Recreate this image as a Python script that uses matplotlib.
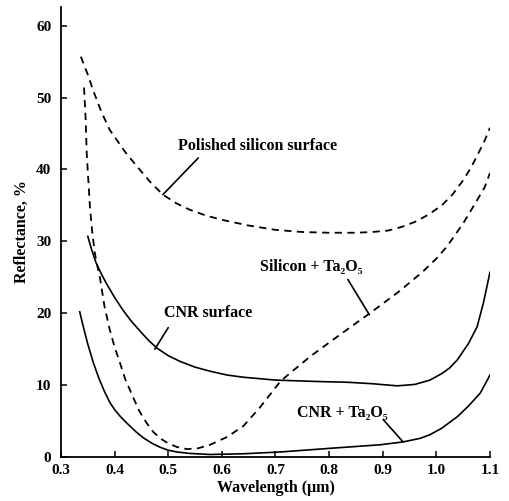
import matplotlib
matplotlib.use('Agg')
import matplotlib.pyplot as plt

# Reflectance curves (wavelength in um, reflectance in %)
polished_x = [0.337, 0.35, 0.36, 0.376, 0.391, 0.405, 0.42, 0.442, 0.466, 0.49,
              0.515, 0.54, 0.57, 0.60, 0.65, 0.70, 0.75, 0.80, 0.85, 0.88,
              0.91, 0.935, 0.96, 0.985, 1.01, 1.03, 1.05, 1.065, 1.08, 1.09, 1.10]
polished_y = [55.7, 53.2, 51.0, 47.9, 45.5, 44.0, 42.4, 40.4, 38.3, 36.5,
              35.3, 34.4, 33.6, 33.0, 32.2, 31.6, 31.3, 31.2, 31.2, 31.3,
              31.5, 32.0, 32.7, 33.7, 35.0, 36.5, 38.5, 40.3, 42.5, 44.0, 45.8]

si_ta_x = [0.343, 0.346, 0.348, 0.351, 0.354, 0.358, 0.363, 0.368, 0.373, 0.381,
           0.391, 0.40, 0.41, 0.42, 0.434, 0.446, 0.46, 0.472, 0.485, 0.50,
           0.516, 0.535, 0.555, 0.578, 0.61, 0.64, 0.67, 0.71, 0.765, 0.82,
           0.876, 0.93, 0.975, 1.00, 1.02, 1.05, 1.075, 1.09, 1.10]
si_ta_y = [51.4, 47.0, 42.3, 38.5, 34.8, 31.5, 28.4, 26.5, 24.8, 21.0,
           17.7, 15.3, 13.1, 10.8, 8.4, 6.4, 4.7, 3.5, 2.6, 1.9,
           1.4, 1.1, 1.2, 1.7, 2.8, 4.3, 6.8, 10.6, 14.0, 17.0,
           20.0, 23.0, 25.8, 27.6, 29.3, 32.5, 35.6, 37.5, 39.5]

cnr_x = [0.350, 0.357, 0.365, 0.375, 0.385, 0.40, 0.415, 0.43, 0.45, 0.465,
         0.48, 0.50, 0.522, 0.55, 0.58, 0.61, 0.64, 0.70, 0.78, 0.834,
         0.88, 0.927, 0.96, 0.988, 1.01, 1.025, 1.039, 1.06, 1.076, 1.088, 1.10]
cnr_y = [30.7, 28.9, 27.1, 25.5, 24.1, 22.2, 20.5, 19.0, 17.3, 16.1,
         15.1, 14.1, 13.3, 12.5, 11.9, 11.4, 11.1, 10.7, 10.5, 10.4,
         10.2, 9.9, 10.1, 10.7, 11.6, 12.4, 13.5, 15.8, 18.1, 21.5, 25.7]

cnr_ta_x = [0.335, 0.34, 0.35, 0.36, 0.37, 0.38, 0.391, 0.40, 0.41, 0.423,
            0.44, 0.453, 0.47, 0.485, 0.50, 0.516, 0.54, 0.578, 0.64, 0.709,
            0.80, 0.895, 0.938, 0.97, 0.988, 1.01, 1.039, 1.06, 1.082, 1.10]
cnr_ta_y = [20.2, 18.6, 15.7, 13.2, 11.1, 9.3, 7.6, 6.6, 5.7, 4.7,
            3.5, 2.7, 1.9, 1.35, 0.95, 0.7, 0.5, 0.35, 0.45, 0.7,
            1.2, 1.7, 2.1, 2.6, 3.1, 4.0, 5.6, 7.1, 8.9, 11.4]

x_ticks = [0.3, 0.4, 0.5, 0.6, 0.7, 0.8, 0.9, 1.0, 1.1]
y_ticks = [0, 10, 20, 30, 40, 50, 60]

serif = ['Liberation Serif', 'DejaVu Serif']
plt.rcParams['font.family'] = serif
plt.rcParams['font.weight'] = 'bold'

fig = plt.figure(figsize=(5.09, 5.01), dpi=100)
ax = fig.add_axes([0.1198, 0.0878, 0.8428, 0.8982])

dash = (0, (4, 3))
ax.plot(polished_x, polished_y, color='black', lw=1.3, linestyle=dash)
ax.plot(si_ta_x, si_ta_y, color='black', lw=1.3, linestyle=dash)
ax.plot(cnr_x, cnr_y, color='black', lw=1.2)
ax.plot(cnr_ta_x, cnr_ta_y, color='black', lw=1.2)

ax.set_xlim(0.3, 1.1)
ax.set_ylim(0, 62.6)
ax.set_xticks(x_ticks)
ax.set_xticklabels(['%.1f' % v for v in x_ticks])
ax.set_yticks(y_ticks)
ax.spines['top'].set_visible(False)
ax.spines['right'].set_visible(False)
ax.spines['left'].set_linewidth(1.3)
ax.spines['bottom'].set_linewidth(1.3)
ax.tick_params(direction='in', length=4, width=1.1, labelsize=11)
ax.tick_params(axis='x', pad=5)
ax.tick_params(axis='y', pad=7)

ax.set_xlabel('Wavelength (μm)', fontsize=11.5, fontweight='bold', labelpad=2)
ax.set_ylabel('Reflectance, %', fontsize=11.5, fontweight='bold', labelpad=4)

# curve labels with leader lines
labels = [
    ('Polished silicon surface', (0.666, 43.2), (0.556, 41.6), (0.490, 36.5)),
    ('CNR surface', (0.574, 20.1), (0.500, 18.0), (0.475, 15.0)),
    ('Silicon + Ta₂O₅', (0.766, 26.5), (0.835, 24.7), (0.875, 19.8)),
    ('CNR + Ta₂O₅', (0.824, 6.1), (0.901, 5.2), (0.938, 2.1)),
]
for txt, pos, start, end in labels:
    ax.text(pos[0], pos[1], txt, fontsize=11.5, fontweight='bold',
            ha='center', va='center')
    ax.annotate('', xy=end, xytext=start,
                arrowprops=dict(arrowstyle='-', lw=1.2, color='black',
                                shrinkA=0, shrinkB=0))

fig.savefig('out.png', dpi=100)
